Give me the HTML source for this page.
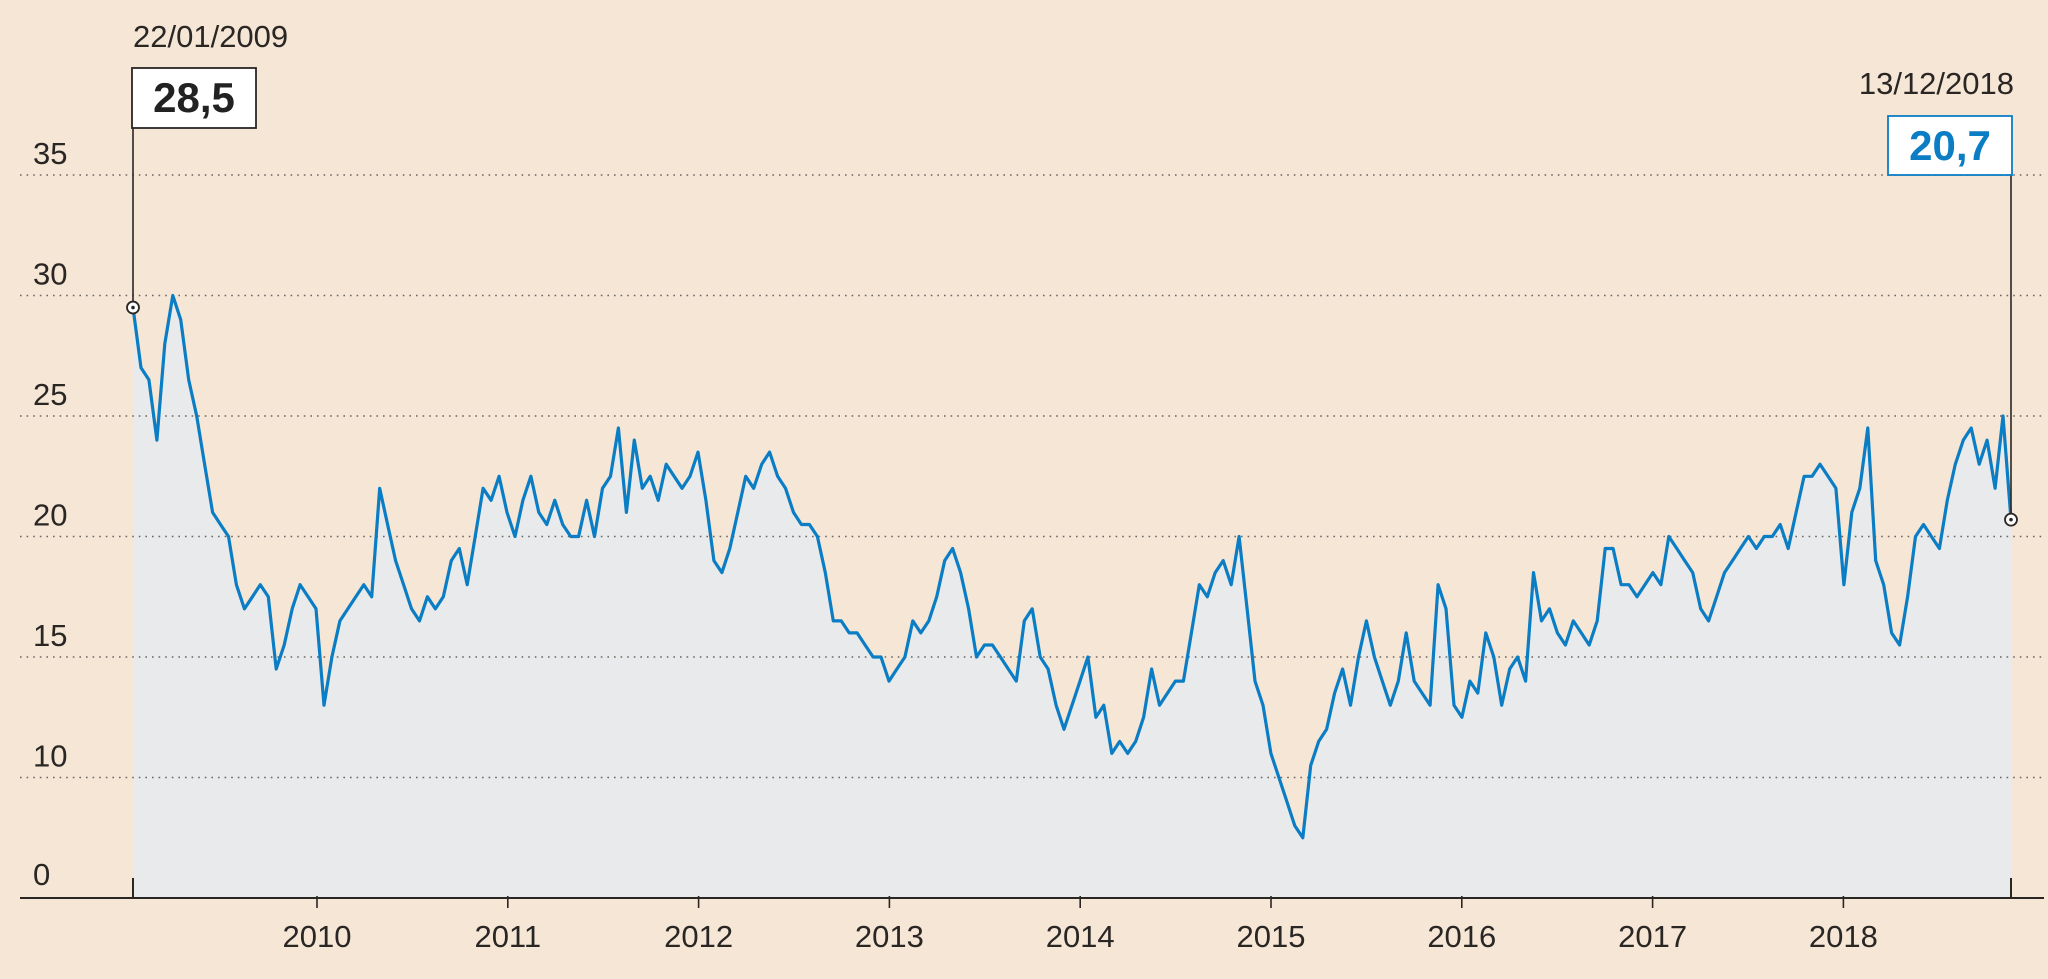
<!DOCTYPE html>
<html><head><meta charset="utf-8"><style>
html,body{margin:0;padding:0;background:#f5e6d6;}
svg{display:block;font-family:"Liberation Sans",sans-serif;}
</style></head><body>
<svg id="chart" width="2048" height="979" viewBox="0 0 2048 979" xmlns="http://www.w3.org/2000/svg">
<rect width="2048" height="979" fill="#f5e6d6"/>
<g id="fill-layer"></g>
<g id="grid-layer"></g>
<g id="line-layer"></g>
<g id="axis-layer"></g>
<g id="annot-layer"></g>
</svg>
<script>
const yearLabels = ["2010","2011","2012","2013","2014","2015","2016","2017","2018"];
const yearValues = [2010,2011,2012,2013,2014,2015,2016,2017,2018];
const yTickValues = [10,15,20,25,30,35];
const yTickLabels = ["10","15","20","25","30","35"];
const startLabel = "22/01/2009";
const startValueLabel = "28,5";
const endLabel = "13/12/2018";
const endValueLabel = "20,7";
const startT = 2009.06;
const endT = 2018.88;
const values2009 = [29.5,27,26.5,24,28,30,29,26.5,25,23,21,20.5,20,18,17,17.5,18,17.5,14.5,15.5,17,18,17.5];
const values2010 = [17,13,15,16.5,17,17.5,18,17.5,22,20.5,19,18,17,16.5,17.5,17,17.5,19,19.5,18,20,22,21.5,22.5];
const values2011 = [21,20,21.5,22.5,21,20.5,21.5,20.5,20,20,21.5,20,22,22.5,24.5,21,24,22,22.5,21.5,23,22.5,22,22.5];
const values2012 = [23.5,21.5,19,18.5,19.5,21,22.5,22,23,23.5,22.5,22,21,20.5,20.5,20,18.5,16.5,16.5,16,16,15.5,15,15];
const values2013 = [14,14.5,15,16.5,16,16.5,17.5,19,19.5,18.5,17,15,15.5,15.5,15,14.5,14,16.5,17,15,14.5,13,12,13];
const values2014 = [14,15,12.5,13,11,11.5,11,11.5,12.5,14.5,13,13.5,14,14,16,18,17.5,18.5,19,18,20,17];
const values2015 = [14,13,11,10,9,8,7.5,10.5,11.5,12,13.5,14.5,13,15,16.5,15,14,13,14,16,14,13.5,13,18];
const values2016 = [17,13,12.5,14,13.5,16,15,13,14.5,15,14,18.5,16.5,17,16,15.5,16.5,16,15.5,16.5,19.5,19.5,18,18];
const values2017 = [17.5,18,18.5,18,20,19.5,19,18.5,17,16.5,17.5,18.5,19,19.5,20,19.5,20,20,20.5,19.5,21,22.5,22.5,23];
const values2018 = [22.5,22,18,21,22,24.5,19,18,16,15.5,17.5,20,20.5,20,19.5,21.5,23,24,24.5,23,24,22,25,20.7];
const series = [].concat(values2009,values2010,values2011,values2012,values2013,values2014,values2015,values2016,values2017,values2018);

const NS = "http://www.w3.org/2000/svg";
function mk(tag, attrs, parent){const e=document.createElementNS(NS,tag);for(const k in attrs)e.setAttribute(k,attrs[k]);parent.appendChild(e);return e;}
// axis functions
const baseY = 898;
function yScale(v){return 777.5-(v-10)*24.1;}
function xYear(t){return 317+(t-2010)*190.8;}
const x0 = 133, x1 = 2011;
function xIndex(i){return x0+(x1-x0)*i/(series.length-1);}

const fillL=document.getElementById('fill-layer'), gridL=document.getElementById('grid-layer'),
 lineL=document.getElementById('line-layer'), axisL=document.getElementById('axis-layer'), annL=document.getElementById('annot-layer');

// fill
let d="M"+xIndex(0)+","+baseY;
series.forEach((v,i)=>{d+=" L"+xIndex(i).toFixed(1)+","+yScale(v).toFixed(1);});
d+=" L"+xIndex(series.length-1)+","+baseY+" Z";
const area=mk('path',{d:d,fill:'#e9eaeb'},fillL);



// grid + y labels
yTickValues.forEach((v,i)=>{
  const y=yScale(v);
  const g=mk('line',{x1:20,x2:2042,y1:y,y2:y,stroke:'#6b6560','stroke-width':1.6,'stroke-dasharray':'1.6 5'},gridL);
  
  
  const t=mk('text',{x:33,y:y-11,'font-size':31,fill:'#2a2624'},gridL);
  t.textContent=yTickLabels[i];
  
  
});
const z=mk('text',{x:33,y:885,'font-size':31,fill:'#2a2624'},gridL);
z.textContent="0";



// line
let ld="";
series.forEach((v,i)=>{ld+=(i?" L":"M")+xIndex(i).toFixed(1)+","+yScale(v).toFixed(1);});
const line=mk('path',{d:ld,fill:'none',stroke:'#0a7dc4','stroke-width':3.2,'stroke-linejoin':'round'},lineL);



// axis
const ax=mk('line',{x1:20,x2:2044,y1:baseY,y2:baseY,stroke:'#2a2624','stroke-width':2},axisL);


[x0,x1].forEach((x,i)=>{
  const tk=mk('line',{x1:x,x2:x,y1:baseY-20,y2:baseY,stroke:'#2a2624','stroke-width':2},axisL);
  
  
});
yearValues.forEach((yr,i)=>{
  const x=xYear(yr);
  const tk=mk('line',{x1:x,x2:x,y1:baseY-2,y2:baseY+10,stroke:'#2a2624','stroke-width':1.6},axisL);
  
  
  const t=mk('text',{x:x,y:947,'font-size':31,fill:'#2a2624','text-anchor':'middle'},axisL);
  t.textContent=yearLabels[i];
  
  
});

// annotations
const sy=yScale(series[0]), ey=yScale(series[series.length-1]);
const sl=mk('line',{x1:x0,x2:x0,y1:128,y2:sy,stroke:'#2a2624','stroke-width':1.6},annL);


const el2=mk('line',{x1:x1,x2:x1,y1:116,y2:ey,stroke:'#2a2624','stroke-width':1.6},annL);


[[x0,sy,'start-marker'],[x1,ey,'end-marker']].forEach(p=>{
  const c=mk('circle',{cx:p[0],cy:p[1],r:6,fill:'#fff',stroke:'#2a2624','stroke-width':1.8},annL);
  
  
  const c2=mk('circle',{cx:p[0],cy:p[1],r:1.8,fill:'#2a2624'},annL);
  
  
});
const sd=mk('text',{x:133,y:47,'font-size':31,fill:'#2a2624'},annL);
sd.textContent=startLabel;


const sb=mk('rect',{x:132,y:68,width:124,height:60,fill:'#fff',stroke:'#2a2624','stroke-width':1.8},annL);


const sv=mk('text',{x:194,y:112,'font-size':42,'font-weight':'bold',fill:'#222','text-anchor':'middle'},annL);
sv.textContent=startValueLabel;


const ed=mk('text',{x:2014,y:94,'font-size':31,fill:'#2a2624','text-anchor':'end'},annL);
ed.textContent=endLabel;


const eb=mk('rect',{x:1888,y:116,width:124,height:59,fill:'#fff',stroke:'#0a7dc4','stroke-width':1.8},annL);


const ev=mk('text',{x:1950,y:160,'font-size':42,'font-weight':'bold',fill:'#0a7dc4','text-anchor':'middle'},annL);
ev.textContent=endValueLabel;


</script>
</body></html>
